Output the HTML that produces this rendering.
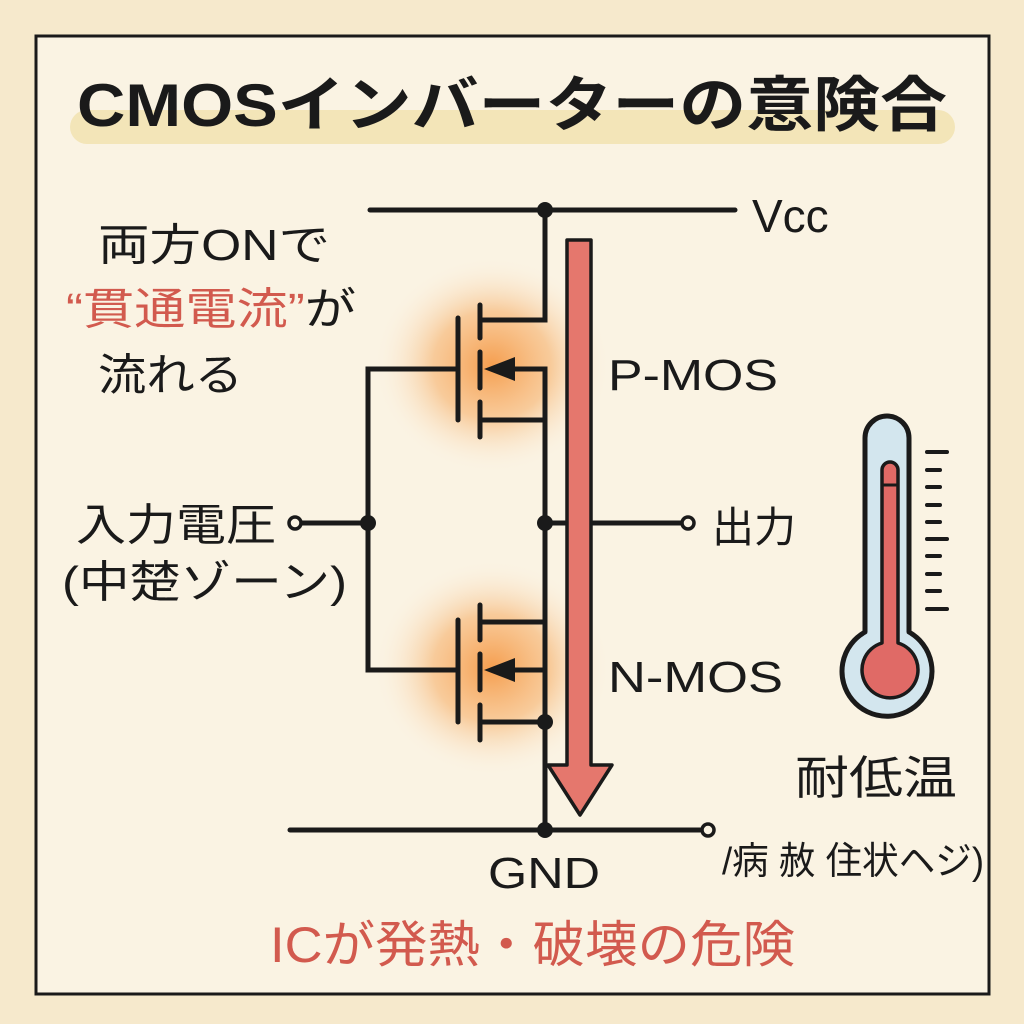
<!DOCTYPE html>
<html><head><meta charset="utf-8"><style>
html,body{margin:0;padding:0;background:#f6e9cc;}
svg{display:block}
text{font-family:"Liberation Sans","Noto Sans CJK JP",sans-serif;fill:#1a1a1a;}
</style></head><body>
<svg width="1024" height="1024" viewBox="0 0 1024 1024" xmlns="http://www.w3.org/2000/svg">
<defs>
<radialGradient id="g" cx="50%" cy="50%" r="50%">
<stop offset="0" stop-color="#f59a48" stop-opacity="0.95"/>
<stop offset="0.5" stop-color="#f7b06a" stop-opacity="0.6"/>
<stop offset="1" stop-color="#faf2e2" stop-opacity="0"/>
</radialGradient>
</defs>
<rect x="0" y="0" width="1024" height="1024" fill="#f6e9cc"/>
<rect x="36" y="36" width="953" height="958" fill="#faf3e3" stroke="#1a1a1a" stroke-width="3"/>
<rect x="70" y="110" width="885" height="34" rx="17" fill="#f3e5b8"/>
<text x="512" y="126" font-size="60" font-weight="bold" text-anchor="middle" textLength="870" lengthAdjust="spacingAndGlyphs">CMOSインバーターの意険合</text>

<ellipse cx="492" cy="365" rx="118" ry="108" fill="url(#g)"/>
<ellipse cx="492" cy="668" rx="118" ry="108" fill="url(#g)"/>

<g stroke="#1a1a1a" stroke-width="5" fill="none" stroke-linecap="round">
<line x1="370" y1="210" x2="735" y2="210"/>
<polyline points="545,210 545,320 480,320"/>
<line x1="458" y1="318" x2="458" y2="420"/>
<line x1="480" y1="305" x2="480" y2="338"/>
<line x1="480" y1="352" x2="480" y2="388"/>
<line x1="480" y1="402" x2="480" y2="437"/>
<polyline points="510,369 545,369 545,830"/>
<line x1="480" y1="420" x2="545" y2="420"/>
<polyline points="458,369 368,369 368,670 458,670"/>
<line x1="300" y1="523" x2="368" y2="523"/>
<line x1="545" y1="523" x2="683" y2="523"/>
<line x1="480" y1="622" x2="545" y2="622"/>
<line x1="458" y1="620" x2="458" y2="722"/>
<line x1="480" y1="605" x2="480" y2="640"/>
<line x1="480" y1="654" x2="480" y2="690"/>
<line x1="480" y1="705" x2="480" y2="740"/>
<line x1="510" y1="670" x2="545" y2="670"/>
<line x1="480" y1="722" x2="545" y2="722"/>
<line x1="290" y1="830" x2="700" y2="830"/>
</g>
<polygon points="484,369 515,357 515,381" fill="#1a1a1a"/>
<polygon points="484,670 515,658 515,682" fill="#1a1a1a"/>
<g fill="#1a1a1a">
<circle cx="545" cy="210" r="8"/><circle cx="368" cy="523" r="8"/><circle cx="545" cy="523" r="8"/>
<circle cx="545" cy="722" r="8"/><circle cx="545" cy="830" r="8"/>
</g>
<g fill="#faf3e3" stroke="#1a1a1a" stroke-width="3.5">
<circle cx="295" cy="523" r="6"/><circle cx="688" cy="523" r="6"/><circle cx="708" cy="830" r="6"/>
</g>

<polygon points="567,240 591,240 591,765 612,765 580,815 548,765 567,765" fill="#e5776d" stroke="#1a1a1a" stroke-width="3.5" stroke-linejoin="round"/>

<text x="752" y="232" font-size="46">Vcc</text>
<text x="98" y="260" font-size="44" textLength="232" lengthAdjust="spacingAndGlyphs">両方ONで</text>
<text x="66" y="324" font-size="44" textLength="290" lengthAdjust="spacingAndGlyphs"><tspan fill="#d25a4e">“貫通電流”</tspan>が</text>
<text x="98" y="390" font-size="44" textLength="145" lengthAdjust="spacingAndGlyphs">流れる</text>
<text x="76" y="540" font-size="44" textLength="200" lengthAdjust="spacingAndGlyphs">入力電圧</text>
<text x="62" y="597" font-size="44" textLength="285" lengthAdjust="spacingAndGlyphs">(中楚ゾーン)</text>
<text x="608" y="390" font-size="44" textLength="170" lengthAdjust="spacingAndGlyphs">P-MOS</text>
<text x="608" y="692" font-size="44" textLength="175" lengthAdjust="spacingAndGlyphs">N-MOS</text>
<text x="712" y="542" font-size="42">出力</text>
<text x="488" y="888" font-size="44" textLength="112" lengthAdjust="spacingAndGlyphs">GND</text>
<text x="722" y="874" font-size="38" textLength="262" lengthAdjust="spacingAndGlyphs">/病 赦 住状ヘジ)</text>
<text x="795" y="794" font-size="46" textLength="162" lengthAdjust="spacingAndGlyphs">耐低温</text>
<text x="270" y="962" font-size="50" textLength="525" lengthAdjust="spacingAndGlyphs" style="fill:#d25a4e">ICが発熱・破壊の危険</text>

<g stroke="#1a1a1a" stroke-linejoin="round">
<path d="M865,438 a22,22 0 0 1 44,0 V632 a45,45 0 1 1 -44,0 Z" fill="#d3e6ee" stroke-width="5"/>
<path d="M882,470 a8,8 0 0 1 16,0 V643 a28,28 0 1 1 -16,0 Z" fill="#e06a66" stroke-width="3.5"/>
<line x1="882" y1="485" x2="898" y2="485" stroke-width="3"/>
</g>
<g stroke="#1a1a1a" stroke-width="4" stroke-linecap="round">
<line x1="927" y1="452" x2="947" y2="452"/><line x1="927" y1="470" x2="940" y2="470"/>
<line x1="927" y1="487" x2="940" y2="487"/><line x1="927" y1="505" x2="940" y2="505"/>
<line x1="927" y1="522" x2="940" y2="522"/><line x1="927" y1="539" x2="947" y2="539"/>
<line x1="927" y1="556" x2="940" y2="556"/><line x1="927" y1="574" x2="940" y2="574"/>
<line x1="927" y1="591" x2="940" y2="591"/><line x1="927" y1="609" x2="947" y2="609"/>
</g>
</svg>
</body></html>
